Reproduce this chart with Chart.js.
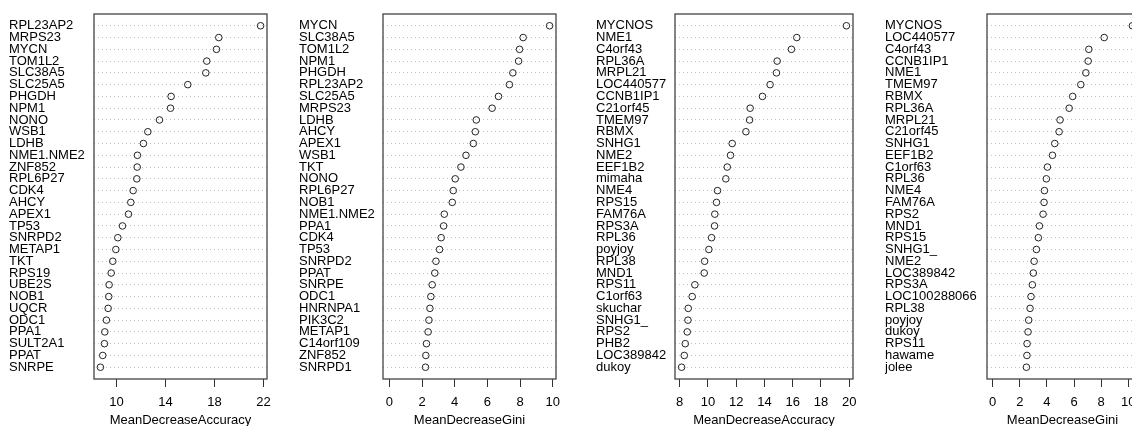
<!DOCTYPE html>
<html>
<head>
<meta charset="utf-8">
<script src="https://cdn.jsdelivr.net/npm/chart.js@4/dist/chart.umd.min.js"></script>
<style>
    html, body { margin: 0; padding: 0; background: #fff; overflow: hidden; width: 1132px; height: 426px; }
    canvas { position: absolute; top: 0; }
</style>
</head>
<body>
<canvas id="accA"></canvas>
<canvas id="giniA"></canvas>
<canvas id="accB"></canvas>
<canvas id="giniB"></canvas>
<script>
var accLabelsA = ['RPL23AP2', 'MRPS23', 'MYCN', 'TOM1L2', 'SLC38A5', 'SLC25A5', 'PHGDH', 'NPM1', 'NONO', 'WSB1',
    'LDHB', 'NME1.NME2', 'ZNF852', 'RPL6P27', 'CDK4', 'AHCY', 'APEX1', 'TP53', 'SNRPD2', 'METAP1',
    'TKT', 'RPS19', 'UBE2S', 'NOB1', 'UQCR', 'ODC1', 'PPA1', 'SULT2A1', 'PPAT', 'SNRPE'];
var accValuesA = [21.76, 18.35, 18.16, 17.37, 17.29, 15.82, 14.46, 14.41, 13.51, 12.56,
    12.2, 11.71, 11.69, 11.66, 11.36, 11.17, 10.98, 10.49, 10.11, 9.95,
    9.70, 9.57, 9.40, 9.37, 9.32, 9.18, 9.05, 9.02, 8.88, 8.69];
var accTicksA = [10, 14, 18, 22];

var giniLabelsA = ['MYCN', 'SLC38A5', 'TOM1L2', 'NPM1', 'PHGDH', 'RPL23AP2', 'SLC25A5', 'MRPS23', 'LDHB', 'AHCY',
    'APEX1', 'WSB1', 'TKT', 'NONO', 'RPL6P27', 'NOB1', 'NME1.NME2', 'PPA1', 'CDK4', 'TP53',
    'SNRPD2', 'PPAT', 'SNRPE', 'ODC1', 'HNRNPA1', 'PIK3C2', 'METAP1', 'C14orf109', 'ZNF852', 'SNRPD1'];
var giniValuesA = [9.81, 8.19, 7.97, 7.91, 7.56, 7.35, 6.68, 6.29, 5.32, 5.26,
    5.14, 4.69, 4.38, 4.03, 3.91, 3.85, 3.36, 3.32, 3.17, 3.07,
    2.85, 2.78, 2.62, 2.54, 2.48, 2.42, 2.37, 2.27, 2.23, 2.21];
var giniTicksA = [0, 2, 4, 6, 8, 10];

var accLabelsB = ['MYCNOS', 'NME1', 'C4orf43', 'RPL36A', 'MRPL21', 'LOC440577', 'CCNB1IP1', 'C21orf45', 'TMEM97', 'RBMX',
    'SNHG1', 'NME2', 'EEF1B2', 'mimaha', 'NME4', 'RPS15', 'FAM76A', 'RPS3A', 'RPL36', 'poyjoy',
    'RPL38', 'MND1', 'RPS11', 'C1orf63', 'skuchar', 'SNHG1_', 'RPS2', 'PHB2', 'LOC389842', 'dukoy'];
var accValuesB = [19.8, 16.29, 15.91, 14.90, 14.85, 14.40, 13.86, 12.99, 12.95, 12.69,
    11.72, 11.60, 11.37, 11.27, 10.68, 10.61, 10.49, 10.47, 10.26, 10.07,
    9.77, 9.74, 9.08, 8.89, 8.61, 8.59, 8.54, 8.40, 8.33, 8.14];
var accTicksB = [8, 10, 12, 14, 16, 18, 20];

var giniLabelsB = ['MYCNOS', 'LOC440577', 'C4orf43', 'CCNB1IP1', 'NME1', 'TMEM97', 'RBMX', 'RPL36A', 'MRPL21', 'C21orf45',
    'SNHG1', 'EEF1B2', 'C1orf63', 'RPL36', 'NME4', 'FAM76A', 'RPS2', 'MND1', 'RPS15', 'SNHG1_',
    'NME2', 'LOC389842', 'RPS3A', 'LOC100288066', 'RPL38', 'poyjoy', 'dukoy', 'RPS11', 'hawame', 'jolee'];
var giniValuesB = [10.3, 8.22, 7.09, 7.04, 6.87, 6.50, 5.90, 5.64, 4.97, 4.90,
    4.58, 4.41, 4.04, 3.96, 3.82, 3.79, 3.72, 3.45, 3.37, 3.23,
    3.06, 3.00, 2.93, 2.83, 2.76, 2.66, 2.61, 2.54, 2.53, 2.49];
var giniTicksB = [0, 2, 4, 6, 8, 10];

Chart.defaults.font.family = '"Liberation Sans", Arial, Helvetica, sans-serif';
Chart.defaults.font.size = 13;
Chart.defaults.color = '#000';

var CANVAS_H = 426;
var BOX_TOP = 14;
var BOX_BOTTOM = 379;
var PAD_RIGHT = 20;

// draws the R style frame round the plot region
var boxPlugin = {
    id: 'rbox',
    afterDraw: function(chart) {
        var a = chart.chartArea;
        var ctx = chart.ctx;
        ctx.save();
        ctx.strokeStyle = '#444';
        ctx.lineWidth = 1.3;
        ctx.strokeRect(a.left, a.top, a.right - a.left, a.bottom - a.top);
        ctx.restore();
    }
};

function makePanel(canvasId, labels, values, ticks, title, fromZero, labelLeft, boxLeft, boxRight) {
    var canvas = document.getElementById(canvasId);
    var w = boxRight - labelLeft + PAD_RIGHT;
    canvas.width = w;
    canvas.height = CANVAS_H;
    canvas.style.left = labelLeft + 'px';
    canvas.style.width = w + 'px';
    canvas.style.height = CANVAS_H + 'px';

    // xlim like varImpPlot: Gini starts at 0, then 4% extension
    var lo = fromZero ? 0 : Math.min.apply(null, values);
    var hi = Math.max.apply(null, values);
    var ext = (hi - lo) * 0.04;

    var points = values.map(function(v, i) {
        return { x: v, y: i + 1 };
    });

    return new Chart(canvas.getContext('2d'), {
        type: 'scatter',
        data: {
            datasets: [{
                data: points,
                pointStyle: 'circle',
                pointRadius: 3.3,
                pointBorderWidth: 1,
                borderColor: '#222',
                backgroundColor: 'rgba(0,0,0,0)'
            }]
        },
        plugins: [boxPlugin],
        options: {
            responsive: false,
            animation: false,
            events: [],
            layout: { padding: { left: 0, right: PAD_RIGHT, top: BOX_TOP, bottom: 0 } },
            plugins: { legend: { display: false }, tooltip: { enabled: false } },
            scales: {
                x: {
                    type: 'linear',
                    min: lo - ext,
                    max: hi + ext,
                    afterBuildTicks: function(scale) {
                        scale.ticks = ticks.map(function(t) { return { value: t }; });
                    },
                    afterFit: function(scale) {
                        scale.height = CANVAS_H - BOX_BOTTOM;
                    },
                    ticks: { padding: 8, autoSkip: false, maxRotation: 0, color: '#000' },
                    grid: { drawOnChartArea: false, drawTicks: true, tickLength: 8, color: '#333', tickColor: '#333' },
                    border: { display: false },
                    title: {
                        display: true,
                        text: title,
                        color: '#000',
                        font: { size: 13, lineHeight: 0.85 },
                        padding: { top: 0, bottom: 0 }
                    }
                },
                y: {
                    type: 'linear',
                    reverse: true,
                    min: 0,
                    max: labels.length + 1,
                    afterBuildTicks: function(scale) {
                        scale.ticks = labels.map(function(l, i) { return { value: i + 1 }; });
                    },
                    afterFit: function(scale) {
                        scale.width = boxLeft - labelLeft;
                    },
                    ticks: {
                        autoSkip: false,
                        crossAlign: 'far',
                        padding: 0,
                        color: '#000',
                        callback: function(value) {
                            return labels[value - 1] || '';
                        }
                    },
                    grid: {
                        drawTicks: false,
                        tickLength: 0,
                        color: '#bebebe',
                        lineWidth: 1,
                        borderDash: [1, 3]
                    },
                    border: { display: false, dash: [1, 3] }
                }
            }
        }
    });
}

makePanel('accA', accLabelsA, accValuesA, accTicksA, 'MeanDecreaseAccuracy', false, 9, 94, 267);
makePanel('giniA', giniLabelsA, giniValuesA, giniTicksA, 'MeanDecreaseGini', true, 299, 383, 556);
makePanel('accB', accLabelsB, accValuesB, accTicksB, 'MeanDecreaseAccuracy', false, 596, 675, 853);
makePanel('giniB', giniLabelsB, giniValuesB, giniTicksB, 'MeanDecreaseGini', true, 885, 987, 1138);
</script>
</body>
</html>
